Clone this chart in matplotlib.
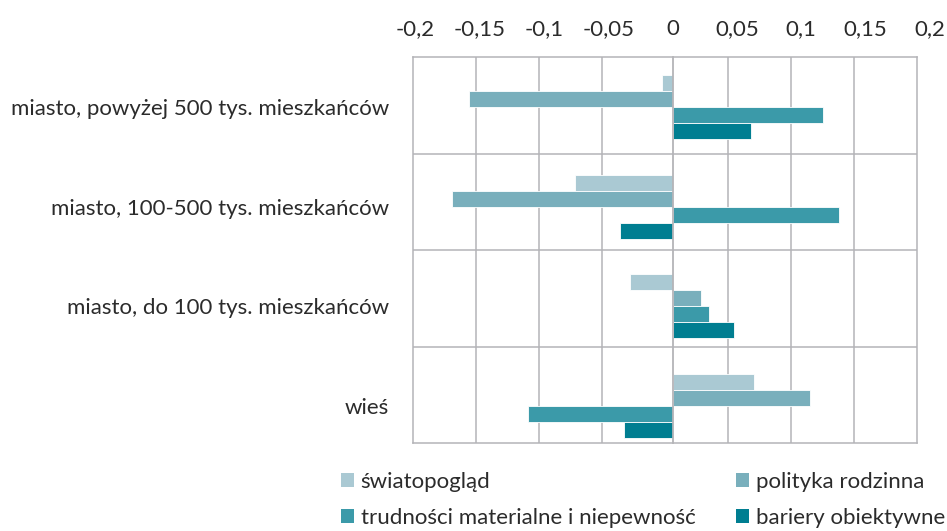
import matplotlib
matplotlib.use('Agg')
import matplotlib.pyplot as plt
import matplotlib.transforms as mtransforms
from matplotlib.patches import Patch
import numpy as np

# data
categories = ['miasto, powyżej 500 tys. mieszkańców',
              'miasto, 100-500 tys. mieszkańców',
              'miasto, do 100 tys. mieszkańców',
              'wieś']
series_names = ['światopogląd', 'polityka rodzinna',
                'trudności materialne i niepewność', 'bariery obiektywne']
swiatopoglad = [-0.008, -0.076, -0.033, 0.063]
polityka = [-0.158, -0.171, 0.022, 0.107]
trudnosci = [0.117, 0.129, 0.028, -0.112]
bariery = [0.061, -0.041, 0.048, -0.038]
xticks = [-0.2, -0.15, -0.1, -0.05, 0, 0.05, 0.1, 0.15, 0.2]
xticklabels = ['-0,2', '-0,15', '-0,1', '-0,05', '0', '0,05', '0,1', '0,15', '0,2']

colors = ['#AAC9D3', '#79AFBC', '#3B9AA9', '#007E91']
gridcolor = '#B4B4B8'
textcolor = '#2B2B2B'

plt.rcParams['font.family'] = ['Lato', 'DejaVu Sans']
plt.rcParams['font.size'] = 16
plt.rcParams['text.color'] = textcolor

W, H = 947, 531
fig = plt.figure(figsize=(W / 100, H / 100), dpi=100)

def rect(x0, y0, x1, y1):
    # pixel box -> figure fraction
    return [x0 / W, 1 - y1 / H, (x1 - x0) / W, (y1 - y0) / H]

# frame + grid (background)
ax_bg = fig.add_axes(rect(413, 57, 917, 443))
ax_bg.set_xlim(-0.2, 0.2)
ax_bg.set_ylim(0, len(categories))
ax_bg.set_xticks([])
ax_bg.set_yticks([])
for s in ax_bg.spines.values():
    s.set_color(gridcolor)
    s.set_linewidth(1.1)
for t in xticks:
    if t != 0 and abs(t) < 0.2:
        ax_bg.axvline(t, color=gridcolor, lw=1.1)
for k in range(1, len(categories)):
    ax_bg.axhline(k, color=gridcolor, lw=1.1)

# bars
ax = fig.add_axes(rect(415, 57, 930, 456))
ax.patch.set_visible(False)
ax.set_xlim(-0.2, 0.2)
ax.set_ylim(len(categories) - 0.5, -0.5)

y = np.arange(len(categories))
h = 0.16
all_series = [swiatopoglad, polityka, trudnosci, bariery]
for i, vals in enumerate(all_series):
    ax.barh(y + (i - 1.5) * h, vals, height=h, color=colors[i],
            edgecolor='white', linewidth=0.6, zorder=3)

# zero axis line spans the frame
trans = mtransforms.blended_transform_factory(ax.transData, ax_bg.transAxes)
ax.plot([0, 0], [0, 1], transform=trans, color=gridcolor, lw=1.3, zorder=4,
        clip_on=False)

for s in ax.spines.values():
    s.set_visible(False)
ax.xaxis.tick_top()
ax.set_xticks(xticks)
ax.set_xticklabels(xticklabels)
ax.set_yticks(y)
ax.set_yticklabels(categories)
ax.tick_params(axis='x', length=0, pad=13, labelsize=16, colors=textcolor)
ax.tick_params(axis='y', length=0, pad=18.5, labelsize=16, colors=textcolor)

# legend: two columns
handles = [Patch(facecolor=c, edgecolor='none') for c in colors]
leg_kw = dict(frameon=False, loc='upper left', fontsize=16, borderpad=0,
              borderaxespad=0, handlelength=0.6, handleheight=0.6,
              handletextpad=0.28, labelspacing=0.7)
fig.legend([handles[0], handles[2]], [series_names[0], series_names[2]],
           bbox_to_anchor=(341 / W, 1 - 472 / H), **leg_kw)
fig.legend([handles[1], handles[3]], [series_names[1], series_names[3]],
           bbox_to_anchor=(736 / W, 1 - 472 / H), **leg_kw)

plt.savefig('out.png', dpi=100)
